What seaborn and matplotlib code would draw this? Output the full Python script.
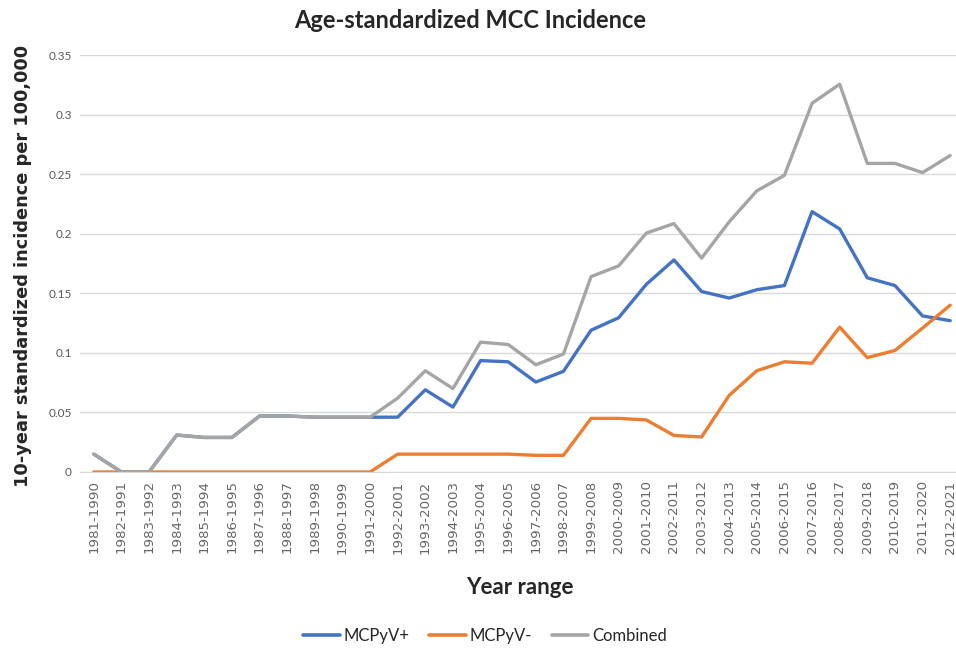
import pandas as pd
import matplotlib.pyplot as plt
import seaborn as sns

# %% Datos

rangos = ['1981-1990', '1982-1991', '1983-1992', '1984-1993', '1985-1994', '1986-1995',
          '1987-1996', '1988-1997', '1989-1998', '1990-1999', '1991-2000', '1992-2001',
          '1993-2002', '1994-2003', '1995-2004', '1996-2005', '1997-2006', '1998-2007',
          '1999-2008', '2000-2009', '2001-2010', '2002-2011', '2003-2012', '2004-2013',
          '2005-2014', '2006-2015', '2007-2016', '2008-2017', '2009-2018', '2010-2019',
          '2011-2020', '2012-2021']

mcpyv_pos = [0.015, 0.0, 0.0, 0.031, 0.029, 0.029, 0.047, 0.047, 0.046, 0.046,
             0.046, 0.046, 0.069, 0.0545, 0.0935, 0.0925, 0.0755, 0.0845, 0.119, 0.1295,
             0.1575, 0.178, 0.1515, 0.146, 0.153, 0.1565, 0.2185, 0.204, 0.163, 0.1565,
             0.131, 0.127]

mcpyv_neg = [0.0, 0.0, 0.0, 0.0, 0.0, 0.0, 0.0, 0.0, 0.0, 0.0,
             0.0, 0.015, 0.015, 0.015, 0.015, 0.015, 0.014, 0.014, 0.045, 0.045,
             0.0437, 0.0307, 0.0294, 0.0643, 0.085, 0.0925, 0.0913, 0.1216, 0.096, 0.102,
             0.1208, 0.140]

combinado = [0.015, 0.0, 0.0, 0.031, 0.029, 0.029, 0.047, 0.047, 0.046, 0.046,
             0.046, 0.062, 0.085, 0.070, 0.109, 0.107, 0.090, 0.099, 0.164, 0.173,
             0.2005, 0.2085, 0.1795, 0.210, 0.236, 0.249, 0.3095, 0.3255, 0.259, 0.259,
             0.2513, 0.2656]

series = ['MCPyV+', 'MCPyV-', 'Combined']
colores = ['#4472C4', '#ED7D31', '#A5A5A5']

# %% Armado del dataframe largo

df = pd.concat([
    pd.DataFrame({'rango': rangos, 'valor': vals, 'serie': nombre})
    for nombre, vals in zip(series, [mcpyv_pos, mcpyv_neg, combinado])
])

# %% Grafico

sns.set_style('white')
plt.rcParams['font.family'] = ['Lato', 'DejaVu Sans']

fig = plt.figure(figsize=(9.56, 6.51), dpi=100)
ax = fig.add_axes([80 / 956, 1 - 472 / 651, 884 / 956, 417 / 651])

sns.lineplot(data=df, x='rango', y='valor', hue='serie', hue_order=series,
             palette=colores, linewidth=2.4, sort=False, ax=ax, legend=False)

ax.set_xlim(-0.5, len(rangos) - 0.5)
ax.set_ylim(0, 0.35)
ax.set_yticks([0, 0.05, 0.1, 0.15, 0.2, 0.25, 0.3, 0.35])
ax.set_yticklabels(['0', '0.05', '0.1', '0.15', '0.2', '0.25', '0.3', '0.35'],
                   fontsize=8.5, color='#595959')
ax.set_xticks(range(len(rangos)))
ax.set_xticklabels(rangos, rotation=90, fontsize=9.6, color='#666666',
                   family='DejaVu Sans')
ax.tick_params(axis='both', length=0, pad=6)
ax.grid(axis='y', color='#D9D9D9', linewidth=1)
for lado in ['top', 'right', 'left']:
    ax.spines[lado].set_visible(False)
ax.spines['bottom'].set_color('#D9D9D9')

ax.set_xlabel('')
ax.set_ylabel('')
fig.text(520 / 956, 1 - 588 / 651, 'Year range', ha='center', va='center',
         fontsize=16, fontweight='bold')
fig.text(23 / 956, 1 - 266 / 651, '10-year standardized incidence per 100,000',
         rotation=90, ha='center', va='center', fontsize=12.8, fontweight='bold',
         family='DejaVu Sans')
fig.text(470 / 956, 1 - 20 / 651, 'Age-standardized MCC Incidence', ha='center',
         va='center', fontsize=17, fontweight='bold')

handles = [plt.Line2D([], [], color=c, linewidth=2.6) for c in colores]
fig.legend(handles, series, loc='center', bbox_to_anchor=(485 / 956, 1 - 636 / 651),
           ncol=3, frameon=False, fontsize=12, handlelength=2.2, columnspacing=1.2,
           handletextpad=0.2)

fig.savefig('out.png', dpi=100)
